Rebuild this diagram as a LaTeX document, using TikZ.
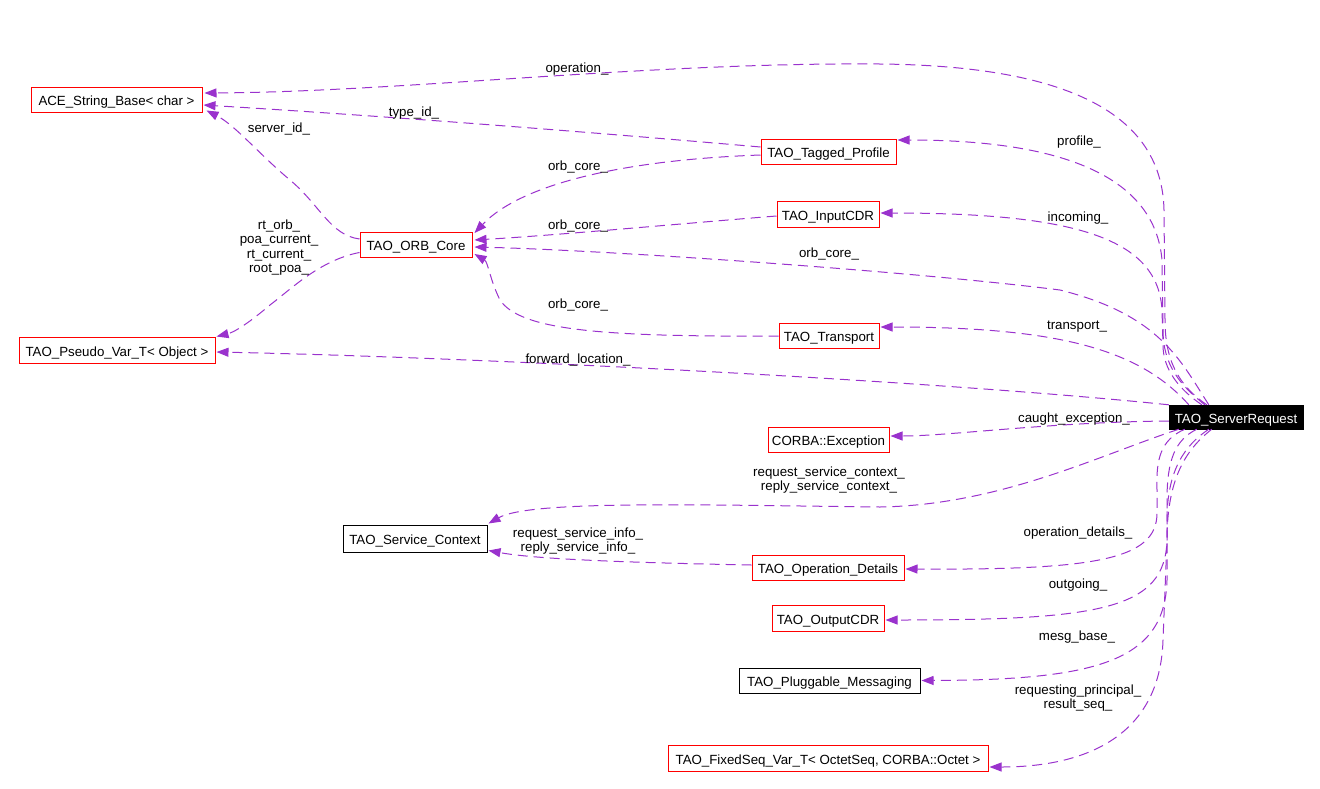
\documentclass[tikz,border=0pt]{standalone}
\usepackage{fontspec}
\setmainfont{Liberation Sans}
\usetikzlibrary{arrows.meta,calc}
\definecolor{edgecol}{HTML}{9A32CD}
\definecolor{redbox}{HTML}{FF0000}
\begin{document}
\begin{tikzpicture}[x=1pt,y=-1pt,
  font=\fontsize{13.3}{15}\selectfont,
  cls/.style={draw=redbox, line width=1pt, minimum height=25pt, inner sep=0pt, text height=12pt, text depth=0pt, anchor=center},
  clsb/.style={cls, draw=black},
  edge/.style={draw=edgecol, line width=1pt, dash pattern=on 10pt off 6pt, -{Triangle[length=12pt,width=9pt]}},
  lbl/.style={inner sep=0pt, align=center, yshift=-2pt, font=\fontsize{13.3}{14.5}\selectfont}]
\useasboundingbox (0,0) rectangle (1320,788);
% nodes
\node[cls, minimum width=171pt] (ace) at (116.5,99.5) {ACE\_String\_Base< char >};
\node[cls, minimum width=196pt, minimum height=26pt] (pvt) at (117,350) {TAO\_Pseudo\_Var\_T< Object >};
\node[cls, minimum width=112pt] (orb) at (416,244.5) {TAO\_ORB\_Core};
\node[cls, minimum width=135pt] (tag) at (828.5,151.5) {TAO\_Tagged\_Profile};
\node[cls, minimum width=102pt, minimum height=26pt] (icdr) at (828,214) {TAO\_InputCDR};
\node[cls, minimum width=100pt] (trn) at (829,335.5) {TAO\_Transport};
\node[draw=black, fill=black, text=white, minimum width=134pt, minimum height=24pt, inner sep=0pt, text height=12pt, text depth=0pt] (sr) at (1236,417) {TAO\_ServerRequest};
\node[cls, minimum width=121pt] (cex) at (828.5,439.5) {CORBA::Exception};
\node[clsb, minimum width=144pt, minimum height=27pt] (svc) at (415,538.5) {TAO\_Service\_Context};
\node[cls, minimum width=152pt] (opd) at (828,567.5) {TAO\_Operation\_Details};
\node[cls, minimum width=112pt, minimum height=26pt] (ocdr) at (828,618) {TAO\_OutputCDR};
\node[clsb, minimum width=181pt] (plg) at (829.5,680.5) {TAO\_Pluggable\_Messaging};
\node[cls, minimum width=320pt, minimum height=26pt] (fsq) at (828,758) {TAO\_FixedSeq\_Var\_T< OctetSeq, CORBA::Octet >};
% edges from TAO_ServerRequest (upper)
\draw[edge] ($(sr.north west)+(38,0)$) .. controls (1178,385) and (1165,360) .. (1165,320) -- (1164,210) .. controls (1162,120) and (1080,66) .. (880,64) .. controls (650,62) and (400,92) .. ($(ace.east)+(2,-6.5)$);
\draw[edge] ($(sr.north west)+(36,0)$) .. controls (1180,385) and (1163,365) .. (1163,330) -- (1162,260) .. controls (1155,180) and (1070,140) .. ($(tag.east)+(1,-11.5)$);
\draw[edge] ($(sr.north west)+(33,0)$) .. controls (1180,390) and (1163,370) .. (1163,345) -- (1162,310) .. controls (1158,240) and (1080,213) .. ($(icdr.east)+(1,-1)$);
\draw[edge] ($(sr.north west)+(40,0)$) .. controls (1180,360) and (1160,315) .. (1060,290) .. controls (900,270) and (600,250) .. ($(orb.east)+(2,2.5)$);
\draw[edge] ($(sr.north west)+(20,0)$) .. controls (1140,350) and (1060,327) .. ($(trn.east)+(1,-8.5)$);
\draw[edge] (sr.north west) .. controls (950,382) and (500,358) .. ($(pvt.east)+(1,2)$);
\draw[edge] ($(sr.west)+(0,4)$) .. controls (1050,422) and (950,436) .. ($(cex.east)+(1,-3.5)$);
% edges from TAO_ServerRequest (lower)
\draw[edge] ($(sr.south west)+(10,0)$) .. controls (1100,455) and (1000,505) .. (880,507) .. controls (700,505) and (530,500) .. ($(svc.north east)+(1,-1)$);
\draw[edge] ($(sr.south west)+(16,0)$) .. controls (1160,440) and (1156,460) .. (1157,490) -- (1157,513) .. controls (1157,560) and (1095,570) .. ($(opd.east)+(1,1.5)$);
\draw[edge] ($(sr.south west)+(28,0)$) .. controls (1175,440) and (1167,460) .. (1167,500) -- (1167,540) .. controls (1165,610) and (1100,620) .. ($(ocdr.east)+(1,2)$);
\draw[edge] ($(sr.south west)+(40,0)$) .. controls (1185,445) and (1167,470) .. (1167,520) -- (1167,580) .. controls (1165,660) and (1100,680) .. ($(plg.east)+(1,0)$);
\draw[edge] ($(sr.south west)+(43,0)$) .. controls (1185,450) and (1167,480) .. (1167,540) -- (1163,640) .. controls (1160,740) and (1080,767) .. ($(fsq.east)+(1,9)$);
% other edges
\draw[edge] ($(tag.west)+(0,3.5)$) .. controls (620,160) and (520,185) .. ($(orb.east)+(2,-11.5)$);
\draw[edge] ($(icdr.west)+(0,2)$) .. controls (700,222) and (560,235) .. ($(orb.east)+(2,-4.5)$);
\draw[edge] ($(trn.west)+(0,0.5)$) .. controls (600,337) and (520,330) .. (500,300) .. controls (490,280) and (488,262) .. ($(orb.east)+(2,9.5)$);
\draw[edge] ($(tag.west)+(0,-4.5)$) .. controls (600,133) and (400,117) .. ($(ace.east)+(1,5.5)$);
\draw[edge] ($(orb.west)+(0,-5.5)$) .. controls (330,235) and (320,205) .. (290,180) .. controls (260,155) and (235,125) .. ($(ace.south east)+(4,-2)$);
\draw[edge] ($(orb.west)+(0,8)$) .. controls (320,260) and (290,290) .. (270,305) .. controls (250,322) and (235,332) .. ($(pvt.north east)+(1,0)$);
\draw[edge] ($(opd.west)+(0,-2.5)$) .. controls (650,563) and (540,560) .. ($(svc.east)+(1,12)$);
% labels
\node[lbl] (Loperation) at (577,67) {operation\_};
\node[lbl] (Ltypeid) at (414,111) {type\_id\_};
\node[lbl] (Lserverid) at (279,127) {server\_id\_};
\node[lbl] (Lpoa) at (279,245.5) {rt\_orb\_\\poa\_current\_\\rt\_current\_\\root\_poa\_};
\node[lbl] (Lorb1) at (578,165) {orb\_core\_};
\node[lbl] (Lorb2) at (578,224) {orb\_core\_};
\node[lbl] (Lorb3) at (829,252) {orb\_core\_};
\node[lbl] (Lorb4) at (578,303) {orb\_core\_};
\node[lbl] (Lprofile) at (1079,140) {profile\_};
\node[lbl] (Lincoming) at (1078,216) {incoming\_};
\node[lbl] (Ltransport) at (1077,325) {transport\_};
\node[lbl] (Lforward) at (578,358) {forward\_location\_};
\node[lbl] (Lcaught) at (1074,417) {caught\_exception\_};
\node[lbl] (Lsvcctx) at (829,478) {request\_service\_context\_\\reply\_service\_context\_};
\node[lbl] (Lsvcinfo) at (578,539) {request\_service\_info\_\\reply\_service\_info\_};
\node[lbl] (Lopdet) at (1078,531) {operation\_details\_};
\node[lbl] (Loutgoing) at (1078,583) {outgoing\_};
\node[lbl] (Lmesg) at (1077,635) {mesg\_base\_};
\node[lbl] (Lreq) at (1078,696) {requesting\_principal\_\\result\_seq\_};
\end{tikzpicture}
\end{document}
